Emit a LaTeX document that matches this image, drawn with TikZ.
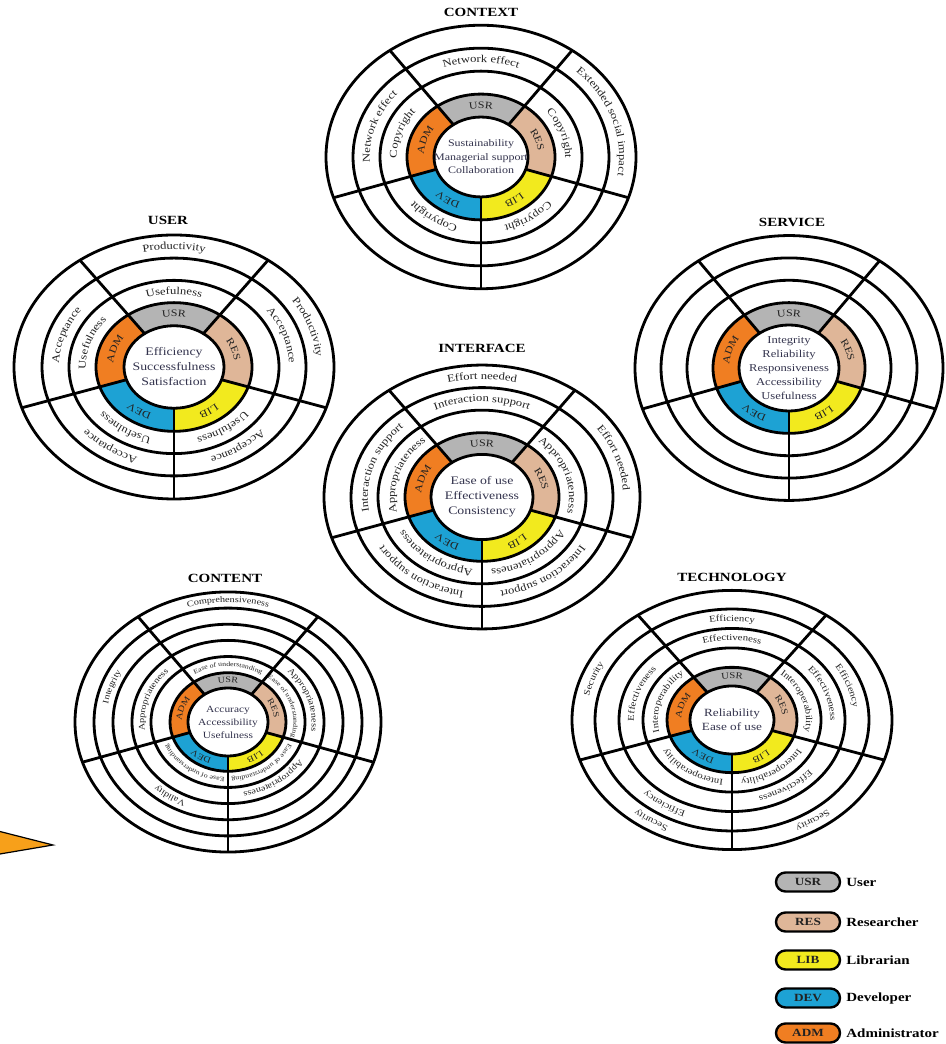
\documentclass[tikz,border=0pt]{standalone}
\usepackage{fontspec}
\setmainfont{Liberation Serif}[FakeStretch=1.2]
\usetikzlibrary{decorations.text}

\definecolor{cusr}{HTML}{B4B4B4}
\definecolor{cres}{HTML}{DFB698}
\definecolor{clib}{HTML}{F2EA1E}
\definecolor{cdev}{HTML}{1DA2D4}
\definecolor{cadm}{HTML}{F07E22}
\definecolor{labc}{HTML}{222222}
\definecolor{midc}{HTML}{33334D}
\definecolor{arrowc}{HTML}{F7A01A}

\tikzset{
  wl/.style={line width=2.8pt, draw=black},
  title/.style={font=\fontsize{12.5}{12.5}\selectfont\bfseries, inner sep=0pt},
  ctext/.style={align=center, text=midc, inner sep=0pt},
  pill/.style={draw=black, line width=2.4pt, rounded corners=9.5pt, minimum width=64pt,
    minimum height=19pt, inner sep=0pt, text=labc, font=\fontsize{11}{11}\selectfont\bfseries},
  legtext/.style={anchor=west, inner sep=0pt, font=\fontsize{12.5}{12.5}\selectfont\bfseries, text=black},
}

% coloured sector of the role band: colour, y/x ratio, inner r, outer r, from, to
\newcommand\bandsector[6]{%
  \pgfmathsetmacro\secYa{#3*#2}%
  \pgfmathsetmacro\secYb{#4*#2}%
  \fill[#1] (#5:#4pt and \secYb pt) arc[start angle=#5,end angle=#6,x radius=#4pt,y radius=\secYb pt]
    -- (#6:#3pt and \secYa pt) arc[start angle=#6,end angle=#5,x radius=#3pt,y radius=\secYa pt] -- cycle;%
}

% curved label in a ring: ratio, inner r, outer r, mid angle, font size, text
\newcommand\ringtext[6]{%
  \pgfmathsetmacro\labX{(#2+#3)/2-0.32*#5}%
  \pgfmathsetmacro\labY{\labX*#1}%
  \pgfmathsetmacro\labA{#4+45}%
  \pgfmathsetmacro\labB{#4-45}%
  \path[decorate,decoration={text along path,text align=center,text color=labc,
      text={|\fontsize{#5}{#5}\selectfont|#6}}]
    (\labA:\labX pt and \labY pt) arc[start angle=\labA,end angle=\labB,x radius=\labX pt,y radius=\labY pt];%
}

% rings, spokes and role band: ratio, r0, r1, all radii, outer r, band font size
\newcommand\wheelbase[6]{%
  \bandsector{cusr}{#1}{#2}{#3}{54}{126}%
  \bandsector{cres}{#1}{#2}{#3}{-18}{54}%
  \bandsector{clib}{#1}{#2}{#3}{-90}{-18}%
  \bandsector{cdev}{#1}{#2}{#3}{198}{270}%
  \bandsector{cadm}{#1}{#2}{#3}{126}{198}%
  \foreach \rr in {#4}{\pgfmathsetmacro\ringY{\rr*#1}\draw[wl] (0,0) ellipse [x radius=\rr pt, y radius=\ringY pt];}%
  \pgfmathsetmacro\spY{#2*#1}\pgfmathsetmacro\spYY{#5*#1}%
  \foreach \aa in {-90,-18,54,126,198}{\draw[wl] (\aa:#2pt and \spY pt) -- (\aa:#5pt and \spYY pt);}%
  \ringtext{#1}{#2}{#3}{90}{#6}{USR}%
  \ringtext{#1}{#2}{#3}{18}{#6}{RES}%
  \ringtext{#1}{#2}{#3}{-54}{#6}{LIB}%
  \ringtext{#1}{#2}{#3}{234}{#6}{DEV}%
  \ringtext{#1}{#2}{#3}{162}{#6}{ADM}%
}

\begin{document}
\begin{tikzpicture}[x=1pt,y=1pt]
\useasboundingbox (0,0) rectangle (945,1044);
\fill[white] (0,0) rectangle (945,1044);

% ---------- CONTEXT ----------
\node[title] (t-context) at (481,1032) {CONTEXT};
\begin{scope}[shift={(481,887)}]
  \wheelbase{0.85}{47}{74}{47,74,101,128,155}{155}{10}
  \node[ctext, font=\fontsize{10}{13.5}\selectfont] (m-context) at (0,0) {Sustainability\\Managerial support\\Collaboration};
  \ringtext{0.85}{101}{128}{90}{10.5}{Network effect}
  \ringtext{0.85}{101}{128}{162}{10.5}{Network effect}
  \ringtext{0.85}{74}{101}{162}{10.5}{Copyright}
  \ringtext{0.85}{128}{155}{18}{10.5}{Extended social impact}
  \ringtext{0.85}{74}{101}{18}{10.5}{Copyright}
  \ringtext{0.85}{74}{101}{-54}{10.5}{Copyright}
  \ringtext{0.85}{74}{101}{234}{10.5}{Copyright}
\end{scope}

% ---------- USER ----------
\node[title] (t-user) at (168,824) {USER};
\begin{scope}[shift={(174,677)}]
  \wheelbase{0.825}{50}{78}{50,78,105,132,160}{160}{10}
  \node[ctext, font=\fontsize{11.5}{15}\selectfont] (m-user) at (0,0) {Efficiency\\Successfulness\\Satisfaction};
  \ringtext{0.825}{132}{160}{90}{10.5}{Productivity}
  \ringtext{0.825}{78}{105}{90}{10.5}{Usefulness}
  \ringtext{0.825}{105}{132}{162}{10.5}{Acceptance}
  \ringtext{0.825}{78}{105}{162}{10.5}{Usefulness}
  \ringtext{0.825}{132}{160}{18}{10.5}{Productivity}
  \ringtext{0.825}{105}{132}{18}{10.5}{Acceptance}
  \ringtext{0.825}{78}{105}{-54}{10.5}{Usefulness}
  \ringtext{0.825}{105}{132}{-54}{10.5}{Acceptance}
  \ringtext{0.825}{78}{105}{234}{10.5}{Usefulness}
  \ringtext{0.825}{105}{132}{234}{10.5}{Acceptance}
\end{scope}

% ---------- SERVICE ----------
\node[title] (t-service) at (792,822) {SERVICE};
\begin{scope}[shift={(789,676)}]
  \wheelbase{0.86}{50}{76}{50,76,102,128,154}{154}{10}
  \node[ctext, font=\fontsize{10.5}{14}\selectfont] (m-service) at (0,0) {Integrity\\Reliability\\Responsiveness\\Accessibility\\Usefulness};
\end{scope}

% ---------- INTERFACE ----------
\node[title] (t-interface) at (482,696) {INTERFACE};
\begin{scope}[shift={(482,547)}]
  \wheelbase{0.835}{51}{77}{51,77,104,131,158}{158}{10}
  \node[ctext, font=\fontsize{11.5}{15}\selectfont] (m-interface) at (0,0) {Ease of use\\Effectiveness\\Consistency};
  \ringtext{0.835}{131}{158}{90}{10.5}{Effort needed}
  \ringtext{0.835}{104}{131}{90}{10.5}{Interaction support}
  \ringtext{0.835}{104}{131}{162}{10.5}{Interaction support}
  \ringtext{0.835}{77}{104}{162}{10.5}{Appropriateness}
  \ringtext{0.835}{131}{158}{18}{10.5}{Effort needed}
  \ringtext{0.835}{77}{104}{18}{10.5}{Appropriateness}
  \ringtext{0.835}{77}{104}{-54}{10.5}{Appropriateness}
  \ringtext{0.835}{104}{131}{-54}{10.5}{Interaction support}
  \ringtext{0.835}{77}{104}{234}{10.5}{Appropriateness}
  \ringtext{0.835}{104}{131}{234}{10.5}{Interaction support}
\end{scope}

% ---------- CONTENT ----------
\node[title] (t-content) at (225,466) {CONTENT};
\begin{scope}[shift={(228,322)}]
  \wheelbase{0.85}{40}{58}{40,58,77,96,115,134,153}{153}{8.5}
  \node[ctext, font=\fontsize{9.5}{13}\selectfont] (m-content) at (0,0) {Accuracy\\Accessibility\\Usefulness};
  \ringtext{0.85}{58}{77}{90}{6.5}{Ease of understanding}
  \ringtext{0.85}{134}{153}{90}{8.5}{Comprehensiveness}
  \ringtext{0.85}{77}{96}{162}{8.5}{Appropriateness}
  \ringtext{0.85}{115}{134}{162}{8.5}{Integrity}
  \ringtext{0.85}{58}{77}{18}{6.5}{Ease of understanding}
  \ringtext{0.85}{77}{96}{18}{8.5}{Appropriateness}
  \ringtext{0.85}{58}{77}{-54}{6.5}{Ease of understanding}
  \ringtext{0.85}{77}{96}{-54}{8.5}{Appropriateness}
  \ringtext{0.85}{58}{77}{234}{6.5}{Ease of understanding}
  \ringtext{0.85}{96}{115}{234}{8.5}{Validity}
\end{scope}

% ---------- TECHNOLOGY ----------
\node[title] (t-technology) at (732,467) {TECHNOLOGY};
\begin{scope}[shift={(732,324)}]
  \wheelbase{0.81}{42}{65}{42,65,89,113,137,160}{160}{9}
  \node[ctext, font=\fontsize{11}{14}\selectfont] (m-technology) at (0,0) {Reliability\\Ease of use};
  \ringtext{0.81}{113}{137}{90}{9}{Efficiency}
  \ringtext{0.81}{89}{113}{90}{9}{Effectiveness}
  \ringtext{0.81}{137}{160}{162}{9}{Security}
  \ringtext{0.81}{89}{113}{162}{9}{Effectiveness}
  \ringtext{0.81}{65}{89}{162}{9}{Interoperability}
  \ringtext{0.81}{65}{89}{18}{9}{Interoperability}
  \ringtext{0.81}{89}{113}{18}{9}{Effectiveness}
  \ringtext{0.81}{113}{137}{18}{9}{Efficiency}
  \ringtext{0.81}{65}{89}{-54}{9}{Interoperability}
  \ringtext{0.81}{89}{113}{-54}{9}{Effectiveness}
  \ringtext{0.81}{137}{160}{-54}{9}{Security}
  \ringtext{0.81}{65}{89}{234}{9}{Interoperability}
  \ringtext{0.81}{113}{137}{234}{9}{Efficiency}
  \ringtext{0.81}{137}{160}{234}{9}{Security}
\end{scope}

% ---------- pointer ----------
\fill[arrowc, draw=black, line width=1.2pt] (-6,214) -- (53,199) -- (-6,189) -- cycle;

% ---------- legend ----------
\node[pill, fill=cusr] (k-usr) at (808,162) {USR};
\node[legtext] (k-user) at ([xshift=5pt]k-usr.east) {User};
\node[pill, fill=cres] (k-res) at (808,122) {RES};
\node[legtext] (k-researcher) at ([xshift=5pt]k-res.east) {Researcher};
\node[pill, fill=clib] (k-lib) at (808,84) {LIB};
\node[legtext] (k-librarian) at ([xshift=5pt]k-lib.east) {Librarian};
\node[pill, fill=cdev] (k-dev) at (808,46) {DEV};
\node[legtext] (k-developer) at ([xshift=5pt]k-dev.east) {Developer};
\node[pill, fill=cadm] (k-adm) at (808,11) {ADM};
\node[legtext] (k-administrator) at ([xshift=5pt]k-adm.east) {Administrator};
\end{tikzpicture}
\end{document}
